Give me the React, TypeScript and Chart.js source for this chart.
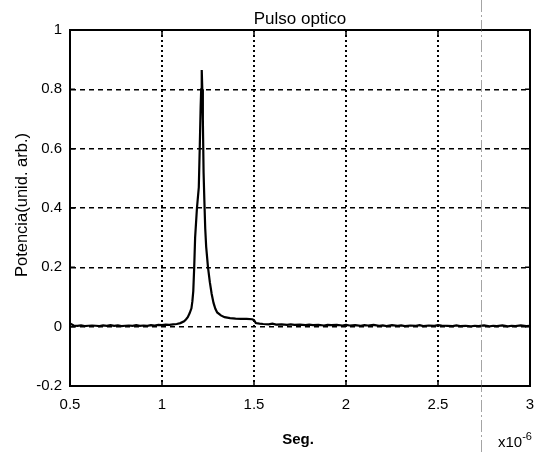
import { useEffect, useRef } from "react";
import { Chart, registerables } from "chart.js";

Chart.register(...registerables);

// Time axis in microseconds (the axis shows the ×10^-6 multiplier).
const timeMicro = [
  0.5, 0.52, 0.54, 0.56, 0.58, 0.6, 0.62, 0.64, 0.66, 0.68, 0.7, 0.72, 0.74, 0.76, 0.78,
  0.8, 0.82, 0.84, 0.86, 0.88, 0.9, 0.92, 0.94, 0.96, 0.98, 1.0, 1.02, 1.04, 1.06, 1.08,
  1.1, 1.12, 1.13, 1.14, 1.15, 1.16, 1.165, 1.17, 1.175, 1.18, 1.19, 1.2, 1.205, 1.21,
  1.213, 1.216, 1.219, 1.222, 1.226, 1.23, 1.235, 1.24, 1.25, 1.26, 1.27, 1.28, 1.29,
  1.3, 1.32, 1.34, 1.37, 1.4, 1.43, 1.46, 1.49, 1.5, 1.51, 1.53,
  1.55, 1.58, 1.6, 1.62, 1.65, 1.68, 1.7, 1.72, 1.75, 1.78, 1.8, 1.82, 1.85, 1.88, 1.9,
  1.92, 1.95, 1.98, 2.0, 2.02, 2.05, 2.08, 2.1, 2.12, 2.15, 2.18, 2.2, 2.22, 2.25, 2.28,
  2.3, 2.32, 2.35, 2.38, 2.4, 2.42, 2.45, 2.48, 2.5, 2.52, 2.55, 2.58, 2.6, 2.62, 2.65,
  2.68, 2.7, 2.72, 2.75, 2.78, 2.8, 2.82, 2.85, 2.88, 2.9, 2.92, 2.95, 2.98, 3.0,
];

// Optical power, arbitrary units.
const power = [
  0.011, 0.004, 0.003, 0.004, 0.002, 0.003, 0.004, 0.003, 0.002, 0.004, 0.003, 0.005, 0.003,
  0.004, 0.002, 0.003, 0.004, 0.003, 0.005, 0.003, 0.004, 0.003, 0.005, 0.004, 0.006, 0.005,
  0.007, 0.006, 0.008, 0.009,
  0.012, 0.018, 0.024, 0.032, 0.045, 0.062, 0.085, 0.12, 0.2, 0.3, 0.4, 0.47, 0.6, 0.74,
  0.8, 0.865, 0.8, 0.7, 0.52, 0.43, 0.33, 0.27, 0.2, 0.15, 0.11, 0.08, 0.06,
  0.048, 0.038, 0.032, 0.029, 0.027, 0.026, 0.026, 0.025, 0.022, 0.012, 0.01,
  0.009, 0.008, 0.01, 0.007, 0.008, 0.006, 0.008, 0.006, 0.007, 0.005, 0.007, 0.005, 0.006,
  0.004, 0.006, 0.005, 0.006, 0.004, 0.006, 0.004, 0.005, 0.003, 0.005, 0.004, 0.006, 0.003,
  0.004, 0.002, 0.005, 0.003, 0.004, 0.002, 0.004, 0.003, 0.005, 0.002, 0.004, 0.003, 0.005,
  0.004, 0.003, 0.002, 0.004, 0.002, 0.003, 0.001, 0.003, 0.002, 0.004, 0.001, 0.003, 0.002,
  0.004, 0.001, 0.003, 0.002, 0.004, 0.002, 0.003,
];

const xTickValues = [0.5, 1, 1.5, 2, 2.5, 3];
const yTickValues = [-0.2, 0, 0.2, 0.4, 0.6, 0.8, 1];

const titleText = "Pulso optico";
const xAxisLabel = "Seg.";
const yAxisLabel = "Potencia(unid. arb.)";
const xMultiplierBase = "x10";
const xMultiplierExp = "-6";

const FONT = '"Liberation Sans", Arial, sans-serif';

// Box frame, inward ticks, titles and the multiplier note.
const framePlugin = {
  id: "frame",
  afterDraw(chart: any) {
    const { ctx, chartArea, scales } = chart;
    const { left, right, top, bottom } = chartArea;
    const xs = scales.x;
    const ys = scales.y;
    ctx.save();
    ctx.strokeStyle = "#000";
    ctx.setLineDash([]);
    ctx.lineWidth = 2;
    ctx.strokeRect(left, top, right - left, bottom - top);

    ctx.lineWidth = 1.5;
    ctx.beginPath();
    for (const v of xTickValues) {
      const px = xs.getPixelForValue(v);
      ctx.moveTo(px, bottom);
      ctx.lineTo(px, bottom - 5);
      ctx.moveTo(px, top);
      ctx.lineTo(px, top + 5);
    }
    for (const v of yTickValues) {
      const py = ys.getPixelForValue(v);
      ctx.moveTo(left, py);
      ctx.lineTo(left + 5, py);
      ctx.moveTo(right, py);
      ctx.lineTo(right - 5, py);
    }
    ctx.stroke();

    ctx.fillStyle = "#000";
    ctx.textAlign = "center";
    ctx.textBaseline = "alphabetic";
    ctx.font = `17px ${FONT}`;
    ctx.fillText(titleText, (left + right) / 2, top - 6);

    ctx.font = `bold 15px ${FONT}`;
    ctx.fillText(xAxisLabel, (left + right) / 2 - 2, bottom + 58);

    ctx.save();
    ctx.translate(left - 48, (top + bottom) / 2 - 3);
    ctx.rotate(-Math.PI / 2);
    ctx.font = `16.5px ${FONT}`;
    ctx.textBaseline = "middle";
    ctx.fillText(yAxisLabel, 0, 0);
    ctx.restore();

    ctx.textAlign = "left";
    ctx.font = `15px ${FONT}`;
    const mx = right - 32;
    ctx.fillText(xMultiplierBase, mx, bottom + 61);
    const w = ctx.measureText(xMultiplierBase).width;
    ctx.font = `11px ${FONT}`;
    ctx.fillText(xMultiplierExp, mx + w, bottom + 54);

    // faint fold line running down the sheet
    ctx.strokeStyle = "rgba(90,90,90,0.55)";
    ctx.lineWidth = 1;
    ctx.setLineDash([12, 3, 2, 3]);
    ctx.beginPath();
    ctx.moveTo(481.5, 0);
    ctx.lineTo(481.5, chart.height);
    ctx.stroke();
    ctx.restore();
  },
};

export default function App() {
  const canvasRef = useRef<HTMLCanvasElement | null>(null);

  useEffect(() => {
    const canvas = canvasRef.current;
    if (!canvas) return;
    const points = timeMicro.map((t, i) => ({ x: t, y: power[i] }));
    const chart = new Chart(canvas, {
      type: "line",
      data: {
        datasets: [
          {
            data: points,
            borderColor: "#000",
            borderWidth: 2.2,
            pointRadius: 0,
            tension: 0,
            fill: false,
          },
        ],
      },
      options: {
        animation: false,
        responsive: false,
        maintainAspectRatio: false,
        layout: { padding: { left: 0, right: 15, top: 30, bottom: 0 } },
        plugins: {
          legend: { display: false },
          tooltip: { enabled: false },
          title: { display: false },
        },
        scales: {
          x: {
            type: "linear",
            min: 0.5,
            max: 3,
            afterBuildTicks: (s: any) => {
              s.ticks = xTickValues.map((v) => ({ value: v }));
            },
            afterFit: (s: any) => {
              s.height = 66;
            },
            grid: { color: "#000", lineWidth: 2, drawTicks: false },
            border: { display: true, color: "#000", width: 2, dash: [2, 3] },
            ticks: {
              padding: 10,
              color: "#000",
              font: { family: FONT, size: 15 },
              maxRotation: 0,
              autoSkip: false,
              callback: (v: any) => String(v),
            },
          },
          y: {
            type: "linear",
            min: -0.2,
            max: 1,
            afterBuildTicks: (s: any) => {
              s.ticks = yTickValues.map((v) => ({ value: v }));
            },
            afterFit: (s: any) => {
              s.width = 70;
            },
            grid: { color: "#000", lineWidth: 1.5, drawTicks: false },
            border: { display: true, color: "#000", width: 2, dash: [5, 4] },
            ticks: {
              padding: 8,
              color: "#000",
              font: { family: FONT, size: 15 },
              autoSkip: false,
              callback: (v: any) => String(Math.round(Number(v) * 10) / 10),
            },
          },
        },
      },
      plugins: [framePlugin],
    });
    return () => chart.destroy();
  }, []);

  return (
    <div style={{ position: "fixed", left: 0, top: 0, width: 545, height: 452, background: "#fff" }}>
      <canvas ref={canvasRef} width={545} height={452} />
    </div>
  );
}
